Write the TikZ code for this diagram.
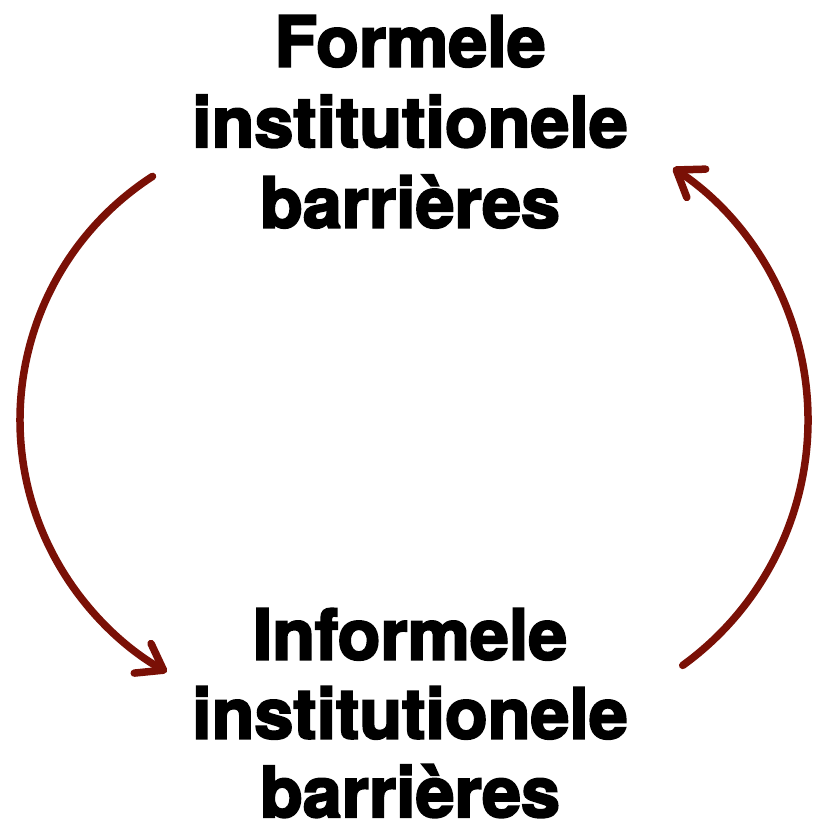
\documentclass[tikz,border=0pt]{standalone}
\usepackage{fontspec}
\newfontfamily\heavyfont{TeX Gyre Heros}[BoldFeatures={FakeBold=3}]
\usetikzlibrary{arrows.meta}
\definecolor{cycred}{RGB}{122,16,6}
\tikzset{
  lbl/.style={font=\heavyfont\bfseries\fontsize{70}{80}\selectfont, anchor=base, inner sep=0pt, text=black},
  cyc/.style={draw=cycred, line width=7.5pt, line cap=round,
    -{Straight Barb[length=24pt, width=34pt, line cap=round, line join=round]}}
}
\begin{document}
\begin{tikzpicture}[x=1pt,y=-1pt]
\useasboundingbox (0,0) rectangle (813,826);
\node[lbl] (f1) at (410,66.5) {Formele};
\node[lbl] (f2) at (410,147) {institutionele};
\node[lbl] (f3) at (410,227.5) {barrières};
\node[lbl] (i1) at (410,659.5) {Informele};
\node[lbl] (i2) at (410,738.5) {institutionele};
\node[lbl] (i3) at (410,817) {barrières};
\coordinate (la) at (152.5,176.4);
\coordinate (ra) at (682.7,665.4);
\draw[cyc] (la) arc[start angle=237.1, end angle=119.6, radius=290];
\draw[cyc] (ra) arc[start angle=54.1, end angle=-56.3, radius=303];
\end{tikzpicture}
\end{document}
